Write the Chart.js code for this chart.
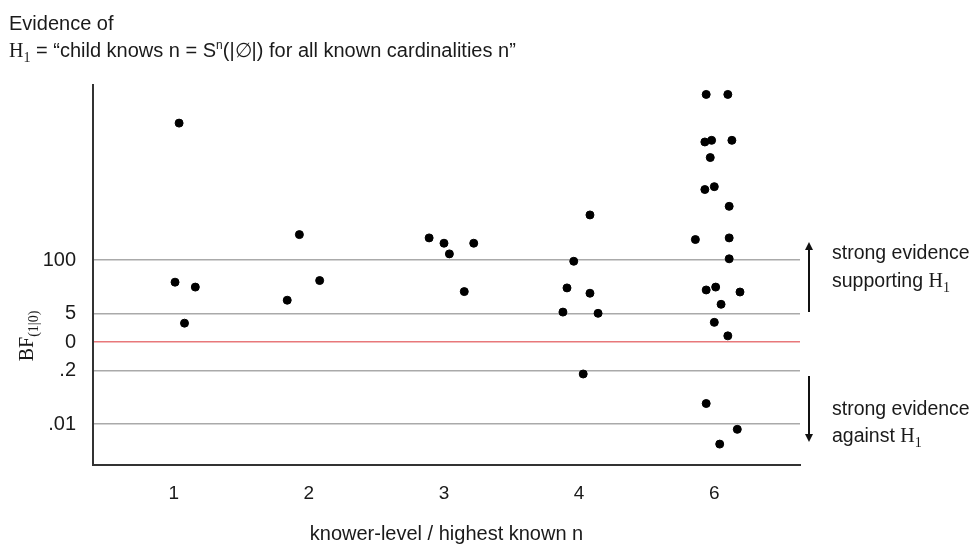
<!DOCTYPE html>
<html>
<head>
<meta charset="utf-8">
<script src="https://cdn.jsdelivr.net/npm/chart.js@4/dist/chart.umd.min.js"></script>
<style>
  html, body { margin: 0; padding: 0; background: #fff; }
</style>
</head>
<body>
<canvas id="chart" width="975" height="546"></canvas>
<script>
// knower-levels on the x axis (placed at index 0..4)
const knowerLevels = ["1", "2", "3", "4", "6"];

// y axis works in log10(BF); tick positions and what they read
const bfTickValues = [-2, -0.699, 0, 0.699, 2];
const bfTickLabels = [".01", ".2", "0", "5", "100"];

// one point per child: jitter = offset from its level, logBF = log10 of the BF
const jitter1 = [0.04, 0.01, 0.16, 0.08];
const logBF1  = [5.34, 1.46, 1.34, 0.46];

const jitter2 = [-0.07, -0.16, 0.08];
const logBF2  = [2.62, 1.02, 1.50];

const jitter3 = [-0.11, 0.00, 0.04, 0.22, 0.15];
const logBF3  = [2.54, 2.41, 2.15, 2.41, 1.23];

const jitter4 = [0.08, -0.04, -0.09, 0.08, -0.12, 0.14, 0.03];
const logBF4  = [3.10, 1.97, 1.32, 1.19, 0.73, 0.70, -0.78];

const jitter6 = [-0.06, 0.10, -0.07, -0.02, 0.13, -0.03, -0.07, 0.00, 0.11, -0.14, 0.11,
                 0.11, -0.06, 0.01, 0.19, 0.05, 0.00, 0.10, -0.06, 0.17, 0.04];
const logBF6  = [6.04, 6.04, 4.88, 4.92, 4.92, 4.50, 3.72, 3.79, 3.31, 2.50, 2.54,
                 2.03, 1.27, 1.34, 1.22, 0.92, 0.48, 0.15, -1.50, -2.13, -2.49];

const groups = [
  [jitter1, logBF1],
  [jitter2, logBF2],
  [jitter3, logBF3],
  [jitter4, logBF4],
  [jitter6, logBF6],
];

// flatten the groups into scatter points
const points = [];
groups.forEach(([jit, vals], i) => {
  vals.forEach((v, k) => points.push({ x: i + jit[k], y: v }));
});

const SANS = '"Liberation Sans", Arial, Helvetica, sans-serif';
const SERIF = '"Liberation Serif", "Times New Roman", serif';

// draws a row of text pieces, each with its own font and vertical shift
function drawRuns(ctx, x, y, runs) {
  let cx = x;
  runs.forEach(r => {
    ctx.font = r.font;
    ctx.fillText(r.t, cx, y + (r.dy || 0));
    cx += ctx.measureText(r.t).width;
  });
  return cx - x;
}

function runsWidth(ctx, runs) {
  let w = 0;
  runs.forEach(r => { ctx.font = r.font; w += ctx.measureText(r.t).width; });
  return w;
}

function arrow(ctx, x, y0, y1) {
  // from y0 to y1, head at y1
  const dir = y1 > y0 ? 1 : -1;
  ctx.beginPath();
  ctx.moveTo(x, y0);
  ctx.lineTo(x, y1 - dir * 6);
  ctx.lineWidth = 2;
  ctx.strokeStyle = "#111";
  ctx.stroke();
  ctx.beginPath();
  ctx.moveTo(x, y1);
  ctx.lineTo(x - 4, y1 - dir * 8);
  ctx.lineTo(x + 4, y1 - dir * 8);
  ctx.closePath();
  ctx.fillStyle = "#111";
  ctx.fill();
}

// title, y label and the right-hand notes
const textPlugin = {
  id: "texts",
  afterDraw(chart) {
    const ctx = chart.ctx;
    ctx.save();
    ctx.fillStyle = "#1a1a1a";
    ctx.textBaseline = "alphabetic";
    ctx.textAlign = "left";

    // title
    ctx.font = "20px " + SANS;
    ctx.fillText("Evidence of", 9, 30);
    drawRuns(ctx, 9, 57, [
      { t: "H", font: "20px " + SERIF },
      { t: "1", font: "14px " + SERIF, dy: 5 },
      { t: " = \u201Cchild knows n = S", font: "20px " + SANS },
      { t: "n", font: "12px " + SANS, dy: -8 },
      { t: "(|\u2205|) for all known cardinalities n\u201D", font: "20px " + SANS },
    ]);

    // y axis label
    const yRuns = [
      { t: "BF", font: "20px " + SERIF },
      { t: "(1|0)", font: "14px " + SERIF, dy: 5 },
    ];
    ctx.save();
    ctx.translate(33, 336);
    ctx.rotate(-Math.PI / 2);
    drawRuns(ctx, -runsWidth(ctx, yRuns) / 2, 0, yRuns);
    ctx.restore();

    // notes on the right
    arrow(ctx, 809, 312, 242);
    arrow(ctx, 809, 376, 442);
    ctx.fillStyle = "#1a1a1a";
    ctx.font = "19.5px " + SANS;
    ctx.fillText("strong evidence", 832, 259);
    drawRuns(ctx, 832, 287, [
      { t: "supporting ", font: "19.5px " + SANS },
      { t: "H", font: "20px " + SERIF },
      { t: "1", font: "14px " + SERIF, dy: 5 },
    ]);
    ctx.font = "19.5px " + SANS;
    ctx.fillText("strong evidence", 832, 415);
    drawRuns(ctx, 832, 442, [
      { t: "against ", font: "19.5px " + SANS },
      { t: "H", font: "20px " + SERIF },
      { t: "1", font: "14px " + SERIF, dy: 5 },
    ]);
    ctx.restore();
  }
};

new Chart(document.getElementById("chart"), {
  type: "scatter",
  data: {
    datasets: [{
      data: points,
      backgroundColor: "#000",
      borderColor: "#000",
      pointRadius: 4,
      pointHoverRadius: 4,
    }]
  },
  options: {
    responsive: false,
    animation: false,
    layout: { padding: { top: 85, right: 175, left: 0, bottom: 0 } },
    plugins: { legend: { display: false }, tooltip: { enabled: false } },
    scales: {
      x: {
        type: "linear",
        min: -0.597,
        max: 4.634,
        afterBuildTicks: s => { s.ticks = knowerLevels.map((_, i) => ({ value: i })); },
        afterFit: s => { s.height = 81; },
        ticks: {
          callback: v => knowerLevels[v],
          font: { family: SANS, size: 19 },
          color: "#1a1a1a",
          padding: 9,
          maxRotation: 0,
        },
        grid: { display: false },
        border: { color: "#333", width: 2 },
        title: {
          display: true,
          text: "knower-level / highest known n",
          font: { family: SANS, size: 20 },
          color: "#1a1a1a",
          padding: { top: 0, bottom: 0 },
        },
      },
      y: {
        min: -3.0,
        max: 6.27,
        afterBuildTicks: s => { s.ticks = bfTickValues.map(v => ({ value: v })); },
        afterFit: s => { s.width = 93; },
        ticks: {
          callback: (v, i) => bfTickLabels[i],
          font: { family: SANS, size: 20 },
          color: "#1a1a1a",
          padding: 17,
        },
        grid: {
          drawTicks: false,
          color: c => (c.tick && c.tick.value === 0 ? "#e8787a" : "#aaaaaa"),
          lineWidth: 1.5,
        },
        border: { color: "#333", width: 2 },
      },
    },
  },
  plugins: [textPlugin],
});
</script>
</body>
</html>
